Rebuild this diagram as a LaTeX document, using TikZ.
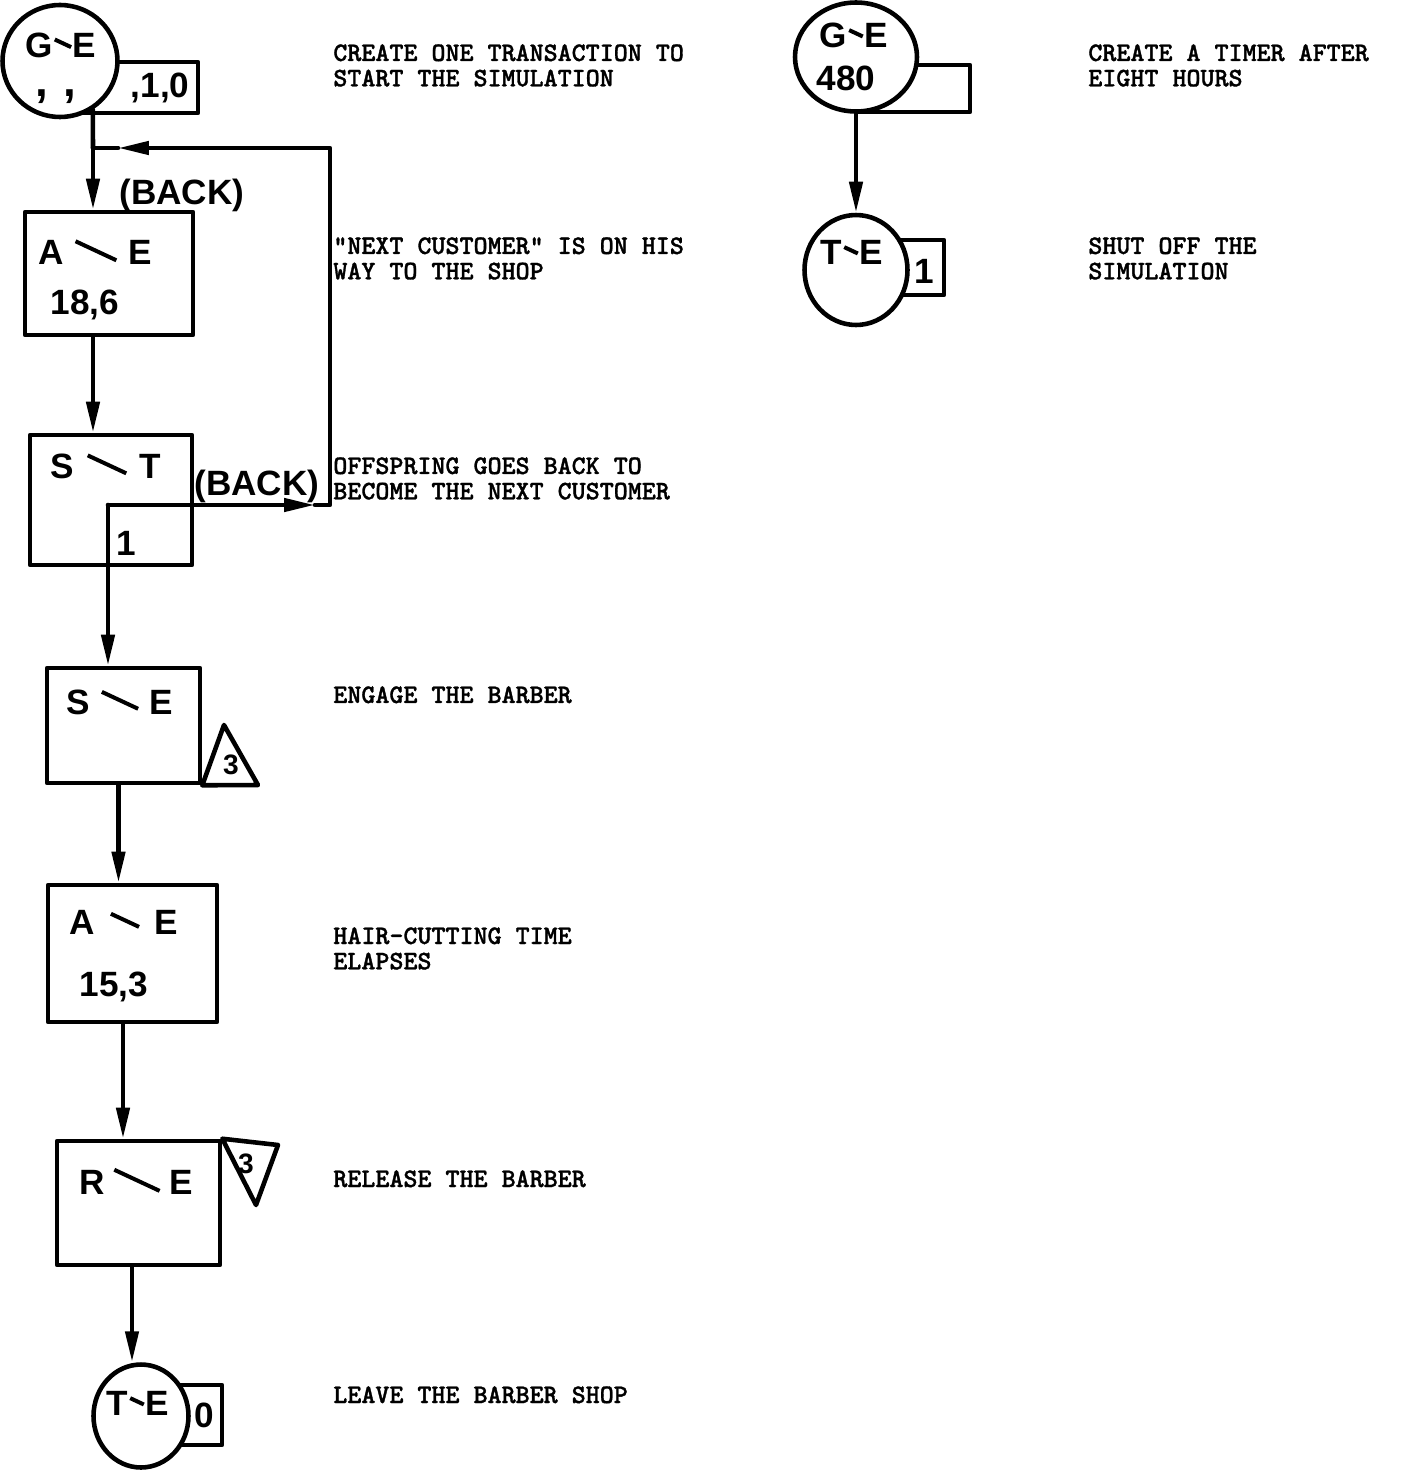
\documentclass[tikz,border=0pt]{standalone}
\usepackage{fontspec}
\usepackage{graphicx}
\newfontfamily\handfont{Liberation Sans}
\newfontfamily\typefont{lmmonolt10-bold.otf}[FakeBold=1.2]
\usetikzlibrary{arrows.meta,positioning,shapes.geometric,fit}

% slanted hand stroke between the two letters of a block name
\newcommand{\hstroke}[1]{\raisebox{\dimexpr 0.24cm+#1*21/100\relax}{\rotatebox{-25}{\rule{#1}{0.08cm}}}}
\newcommand{\bname}[4]{#1\hspace{#4}\hstroke{#3}\hspace{#4}#2}

\begin{document}
\begin{tikzpicture}[
    x=0.02cm, y=-0.02cm,
    ink/.style={line width=2.6pt, line cap=round, line join=round},
    flow/.style={ink, -{Triangle[length=0.62cm,width=0.26cm]}},
    block/.style={ink, draw, fill=white, inner sep=0pt},
    disc/.style={ink, draw, fill=white, ellipse, inner sep=0pt},
    hand/.style={font=\handfont\bfseries\fontsize{20}{20}\selectfont, inner sep=0pt},
    small/.style={font=\handfont\bfseries\fontsize{16}{16}\selectfont, inner sep=0pt},
    note/.style={font=\typefont\fontsize{15.2}{14.4}\selectfont, align=left, anchor=north west, inner sep=0pt}
]

\fill[white] (0,0) rectangle (1400,1470);
\useasboundingbox (0,0) rectangle (1400,1470);

% =========================================================
% Left column: the customers
% =========================================================
\node[block, fit={(60,62) (198,113)}] (gen1tag) {};
\node[disc, minimum width=2.3cm, minimum height=2.24cm] (gen1) at (60,61) {};
\node[hand] (gen1a) at (61,45) {\bname{G}{E}{0.36cm}{0.02cm}};
\node[hand, font=\handfont\bfseries\fontsize{26}{26}\selectfont] (gen1b) at (56,97) {,\hspace{0.3cm},};
\node[hand] (gen1c) at (160,88) {,1,0};

\node[block, fit={(25,212) (193,335)}] (ae1) {};
\node[hand] (ae1a) at (95,252) {\bname{A}{E}{0.9cm}{0.22cm}};
\node[hand] (ae1b) at (85,305) {18,6};

\node[block, fit={(30,435) (192,565)}] (st) {};
\node[hand] (sta) at (106,466) {\bname{S}{T}{0.85cm}{0.25cm}};
\node[hand] (stb) at (126,543) {1};

\node[block, fit={(47,668) (200,783)}] (se) {};
\node[hand] (sea) at (120,702) {\bname{S}{E}{0.8cm}{0.22cm}};
\draw[ink, fill=white] (se.south east) -- (224,725) -- (258,785) -- cycle;
\node[small] (setri) at (231,765) {3};

\node[block, fit={(48,885) (217,1022)}] (ae2) {};
\node[hand] (ae2a) at (124,922) {\bname{A}{E}{0.62cm}{0.3cm}};
\node[hand] (ae2b) at (114,987) {15,3};

\node[block, fit={(57,1141) (220,1265)}] (re) {};
\node[hand] (rea) at (136,1181) {\bname{R}{E}{1.0cm}{0.18cm}};
\draw[ink, fill=white] (re.north east) -- (278,1145) -- (256,1205) -- cycle;
\node[small] (retri) at (246,1164) {3};

\node[block, fit={(141,1385) (222,1445)}] (term1tag) {};
\node[disc, minimum width=1.9cm, minimum height=2.06cm] (term1) at (141,1416) {};
\node[hand] (term1a) at (138,1403) {\bname{T}{E}{0.3cm}{0.02cm}};
\node[hand] (term1b) at (204,1415) {0};

% connectors
\coordinate (j1) at (93,148);
\draw[ink] (gen1.-56) -- (j1);
\draw[flow] (j1) -- (j1 |- ae1.north);
\draw[flow] (ae1.south -| j1) -- (st.north -| j1);

\coordinate (bk1) at (108,505);
\coordinate (tipA) at (315,505);
\coordinate (bk2) at (330,505);
\coordinate (bk3) at (330,148);
\coordinate (tipB) at (118,148);
\draw[flow] (bk1) -- (bk1 |- se.north);
\draw[flow] (bk1) -- (tipA);
\draw[flow] (tipA) -- (bk2) -- (bk3) -- (tipB);
\draw[ink] (tipB) -- (j1);
\node[hand] (back1) at (182,195) {(BACK)};
\node[hand] (back2) at (257,486) {(BACK)};

\coordinate (f3) at ([xshift=-0.1cm]se.south);
\draw[flow] (f3) -- (f3 |- ae2.north);
\coordinate (f4) at ([xshift=-0.19cm]ae2.south);
\draw[flow] (f4) -- (f4 |- re.north);
\coordinate (f5) at ([xshift=-0.13cm]re.south);
\draw[flow] (f5) -- (f5 |- term1.north);

% =========================================================
% Right column: the timer
% =========================================================
\node[block, fit={(856,65) (970,112)}] (gen2tag) {};
\node[disc, minimum width=2.44cm, minimum height=2.18cm] (gen2) at (856,57) {};
\node[hand] (gen2a) at (854,35) {\bname{G}{E}{0.3cm}{0.02cm}};
\node[hand] (gen2b) at (846,78) {480};

\node[block, fit={(856,240) (944,295)}] (term2tag) {};
\node[disc, minimum width=2.06cm, minimum height=2.2cm] (term2) at (856,270) {};
\node[hand] (term2a) at (852,252) {\bname{T}{E}{0.3cm}{0.02cm}};
\node[hand] (term2b) at (924,271) {1};

\draw[flow] (gen2) -- (term2);

% =========================================================
% Typed notes
% =========================================================
\node[note] (n1) at (333,44) {CREATE ONE TRANSACTION TO\\START THE SIMULATION};
\node[note] (n2) at (1088,44) {CREATE A TIMER AFTER\\EIGHT HOURS};
\node[note] (n3) at (333,237) {"NEXT CUSTOMER" IS ON HIS\\WAY TO THE SHOP};
\node[note] (n4) at (1088,237) {SHUT OFF THE\\SIMULATION};
\node[note] (n5) at (333,457) {OFFSPRING GOES BACK TO\\BECOME THE NEXT CUSTOMER};
\node[note] (n6) at (333,686) {ENGAGE THE BARBER};
\node[note] (n7) at (333,927) {HAIR-CUTTING TIME\\ELAPSES};
\node[note] (n8) at (333,1170) {RELEASE THE BARBER};
\node[note] (n9) at (333,1386) {LEAVE THE BARBER SHOP};

\end{tikzpicture}
\end{document}
